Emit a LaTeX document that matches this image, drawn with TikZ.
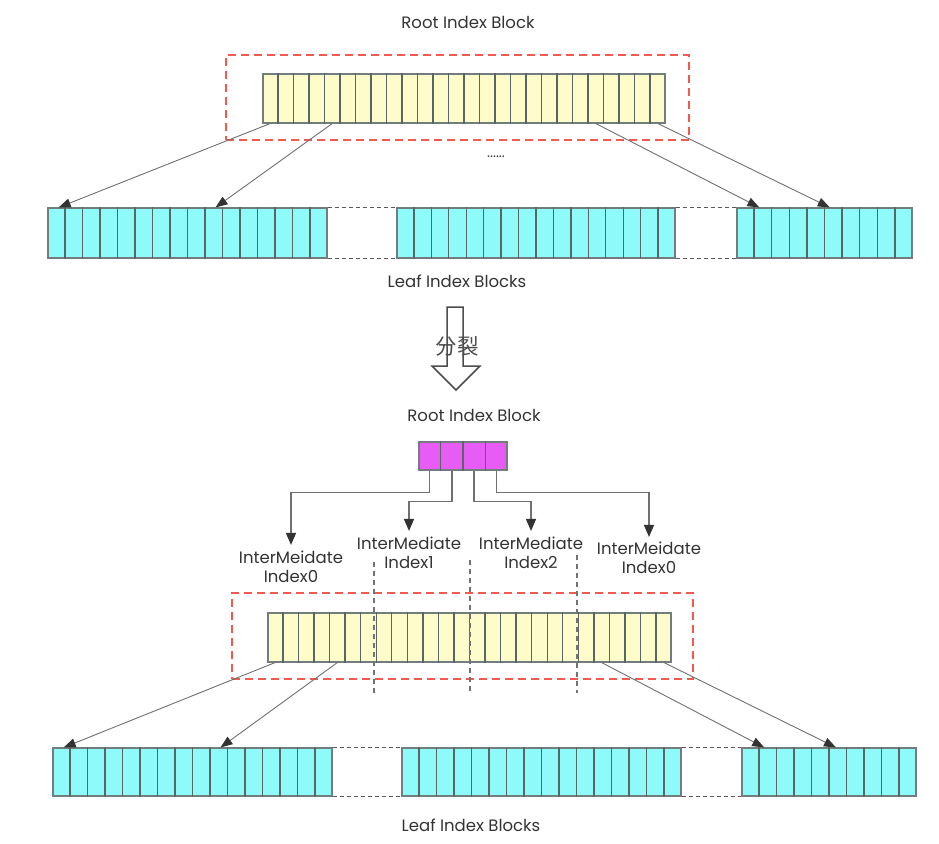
\documentclass[tikz,border=0pt]{standalone}
\usepackage{fontspec}
\setmainfont{Poppins}
\newfontfamily\cjk{Noto Sans CJK SC}
\usetikzlibrary{arrows.meta,calc,fit}
\definecolor{cellyellow}{HTML}{FFFCCC}
\definecolor{cellcyan}{HTML}{8FFAFA}
\definecolor{cellmag}{HTML}{E65CF5}
\definecolor{redd}{HTML}{F25A50}
\definecolor{celledge}{HTML}{5A6666}
\definecolor{linegray}{HTML}{707070}
\definecolor{headgray}{HTML}{333333}
\tikzset{
  blk/.style={draw=celledge!85, line width=1.1pt, inner sep=0pt},
  divider/.style={draw=celledge, line width=1.4pt},
  redbox/.style={draw=redd, line width=1.5pt, dash pattern=on 8pt off 5pt, inner sep=0pt},
  gapdash/.style={draw=black!65, line width=0.9pt, dash pattern=on 4pt off 3pt},
  vdash/.style={draw=black!55, line width=1.1pt, dash pattern=on 5pt off 4pt},
  ptr/.style={draw=linegray, line width=0.9pt, -{Triangle[length=12pt,width=9pt,color=headgray]}},
  ptrb/.style={draw=linegray, line width=1.4pt, -{Triangle[length=12pt,width=10pt,color=headgray]}},
  lbl/.style={font=\fontsize{16.5}{19}\selectfont, text=black!80},
  ilbl/.style={font=\fontsize{16.5}{19}\selectfont, text=black!80, align=center, inner sep=0pt},
}
\newcommand\cellrow[7]{%
  \node[blk, fill=#7, fit={(#2,#3) (#4,#5)}] (#1) {};
  \foreach \k in {1,...,#6}{%
    \draw[divider] ($(#1.north west)!{\k/(#6+1)}!(#1.north east)$) -- ($(#1.south west)!{\k/(#6+1)}!(#1.south east)$);
  }%
}
\begin{document}
\begin{tikzpicture}[x=1pt,y=-1pt]
\useasboundingbox (0,0) rectangle (939,843);
% ---------- top ----------
\node[lbl] (titleA) at (468,22) {Root Index Block};
\node[redbox, fit={(226,55) (689,140)}] (boxA) {};
\cellrow{rootA}{263}{74}{665}{123}{25}{cellyellow}
\cellrow{leafA1}{48}{208}{327}{258}{15}{cellcyan}
\cellrow{leafA2}{397}{208}{675}{258}{15}{cellcyan}
\cellrow{leafA3}{737}{208}{912}{258}{9}{cellcyan}
\node[font=\fontsize{14}{16}\selectfont, text=black!80] (dotsA) at (496,157) {......};
\node[lbl] (leafA) at (457,281) {Leaf Index Blocks};
\draw[gapdash] (leafA1.north east) -- (leafA2.north west);
\draw[gapdash] (leafA1.south east) -- (leafA2.south west);
\draw[gapdash] (leafA2.north east) -- (leafA3.north west);
\draw[gapdash] (leafA2.south east) -- (leafA3.south west);
\draw[ptr] ($(rootA.south west)!0.019!(rootA.south east)$) -- ($(leafA1.north west)!0.04!(leafA1.north east)$);
\draw[ptr] ($(rootA.south west)!0.173!(rootA.south east)$) -- ($(leafA1.north west)!0.60!(leafA1.north east)$);
\draw[ptr] ($(rootA.south west)!0.827!(rootA.south east)$) -- ($(leafA3.north west)!0.13!(leafA3.north east)$);
\draw[ptr] ($(rootA.south west)!0.981!(rootA.south east)$) -- ($(leafA3.north west)!0.53!(leafA3.north east)$);
% ---------- split arrow ----------
\draw[draw=black!70, line width=1.5pt, line join=miter] (447,307) -- (463,307) -- (463,366) -- (480,366) -- (456,390) -- (432,366) -- (447,366) -- cycle;
\node[font=\cjk\fontsize{21.5}{22}\selectfont, text=black!70] (split) at (457,346) {分裂};
% ---------- bottom ----------
\node[lbl] (titleB) at (474,415) {Root Index Block};
\cellrow{rootC}{419}{442}{507}{470}{3}{cellmag}
\node[ilbl] (lab0) at (291,567) {InterMeidate\\Index0};
\node[ilbl] (lab1) at (409,553) {InterMediate\\Index1};
\node[ilbl] (lab2) at (531,553) {InterMediate\\Index2};
\node[ilbl] (lab3) at (649,558) {InterMeidate\\Index0};
\draw[ptrb] ($(rootC.south west)!0.125!(rootC.south east)$) -- ++(0,22) -| ([yshift=6pt]lab0.north);
\draw[ptrb] ($(rootC.south west)!0.375!(rootC.south east)$) -- ++(0,31) -| ([yshift=6pt]lab1.north);
\draw[ptrb] ($(rootC.south west)!0.625!(rootC.south east)$) -- ++(0,31) -| ([yshift=6pt]lab2.north);
\draw[ptrb] ($(rootC.south west)!0.875!(rootC.south east)$) -- ++(0,22) -| ([yshift=5pt]lab3.north);
\node[redbox, fit={(232,593) (693,679)}] (boxB) {};
\cellrow{rootB}{268}{613}{671}{662}{25}{cellyellow}
\draw[vdash] (374,562) -- (374,693);
\draw[vdash] (470,560) -- (470,693);
\draw[vdash] (577,555) -- (577,693);
\cellrow{leafB1}{53}{748}{332}{796}{15}{cellcyan}
\cellrow{leafB2}{402}{748}{681}{796}{15}{cellcyan}
\cellrow{leafB3}{742}{748}{916}{796}{9}{cellcyan}
\node[lbl] (leafB) at (471,825) {Leaf Index Blocks};
\draw[gapdash] (leafB1.north east) -- (leafB2.north west);
\draw[gapdash] (leafB1.south east) -- (leafB2.south west);
\draw[gapdash] (leafB2.north east) -- (leafB3.north west);
\draw[gapdash] (leafB2.south east) -- (leafB3.south west);
\draw[ptr] ($(rootB.south west)!0.019!(rootB.south east)$) -- ($(leafB1.north west)!0.04!(leafB1.north east)$);
\draw[ptr] ($(rootB.south west)!0.173!(rootB.south east)$) -- ($(leafB1.north west)!0.60!(leafB1.north east)$);
\draw[ptr] ($(rootB.south west)!0.827!(rootB.south east)$) -- ($(leafB3.north west)!0.13!(leafB3.north east)$);
\draw[ptr] ($(rootB.south west)!0.981!(rootB.south east)$) -- ($(leafB3.north west)!0.54!(leafB3.north east)$);
\end{tikzpicture}
\end{document}
